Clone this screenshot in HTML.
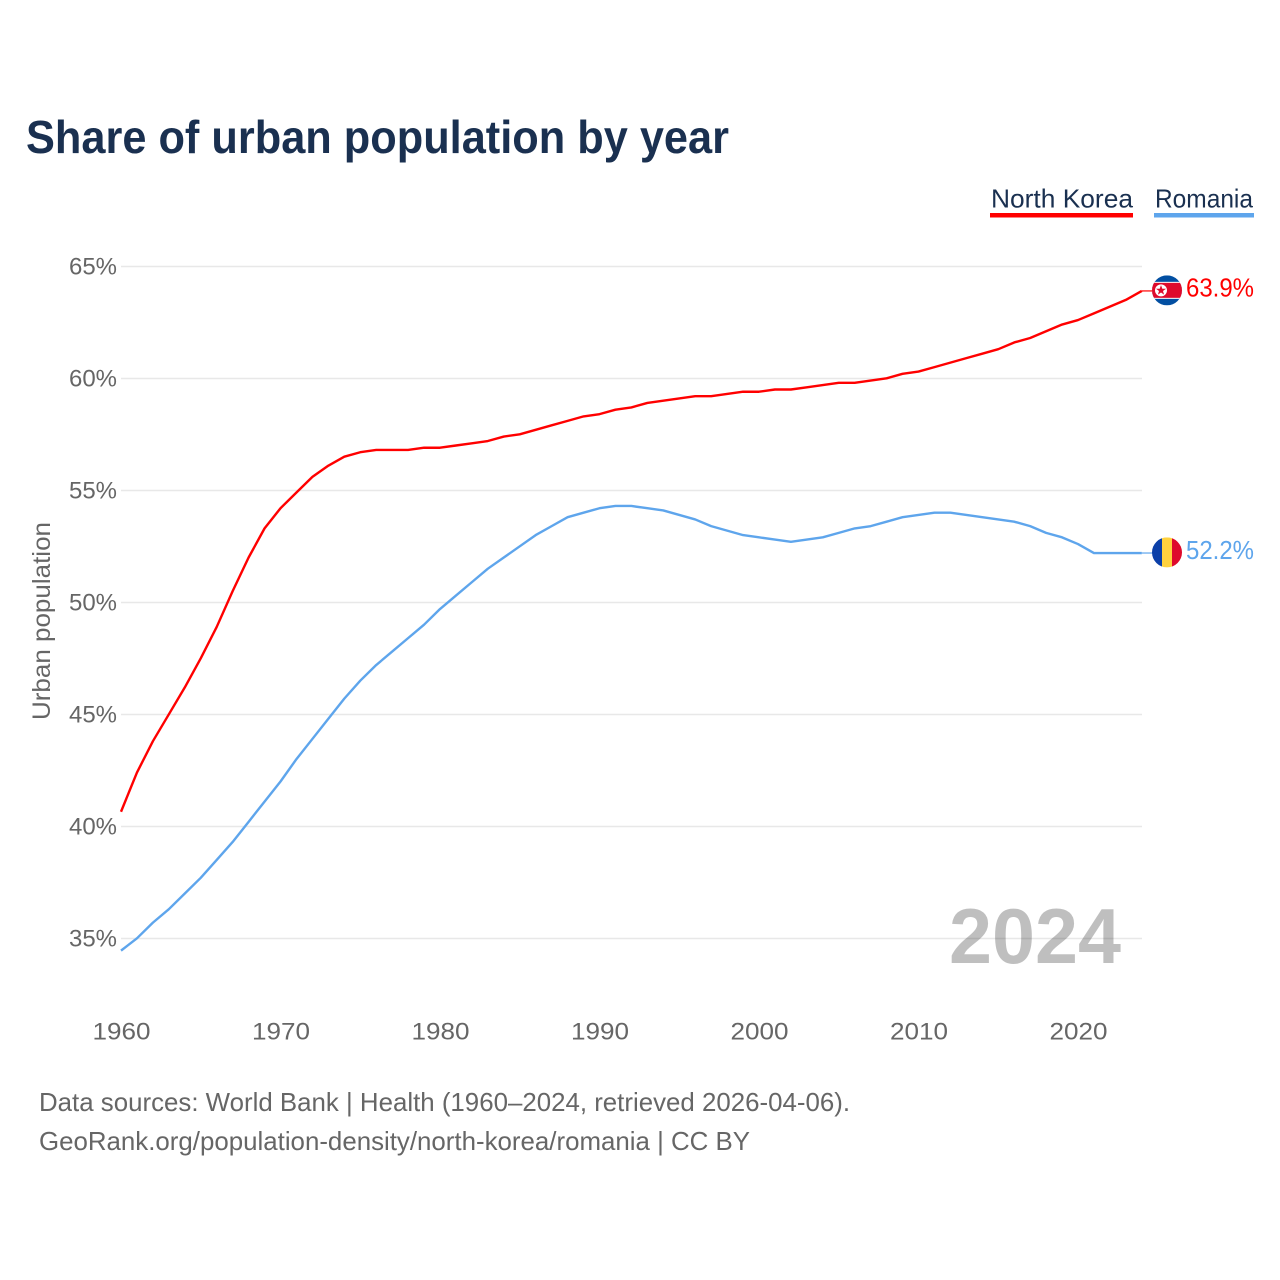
<!DOCTYPE html>
<html lang="en">
<head>
<meta charset="utf-8">
<title>Share of urban population by year</title>
<style>
html,body{margin:0;padding:0;background:#fff;width:1280px;height:1280px;overflow:hidden}
svg{display:block}
text{font-family:"Liberation Sans",sans-serif}
</style>
</head>
<body>
<svg id="chart" xmlns="http://www.w3.org/2000/svg" width="1280" height="1280" viewBox="0 0 1280 1280">
  <rect width="1280" height="1280" fill="#fff"/>
  <text x="26" y="153" font-size="46" font-weight="700" fill="#1a3050" textLength="703" lengthAdjust="spacingAndGlyphs">Share of urban population by year</text>
  <g>
    <text x="991" y="207.5" font-size="26" fill="#1a3050" textLength="142" lengthAdjust="spacingAndGlyphs">North Korea</text>
    <rect x="990" y="213" width="143" height="4.5" fill="#ff0000"/>
  </g>
  <g>
    <text x="1155" y="207.5" font-size="26" fill="#1a3050" textLength="98" lengthAdjust="spacingAndGlyphs">Romania</text>
    <rect x="1154" y="213" width="100" height="4.5" fill="#5ea5ec"/>
  </g>
  <g id="grid"></g>
  <g id="yticks"></g>
  <g id="xticks"></g>
  <text transform="translate(50,621) rotate(-90)" text-anchor="middle" font-size="25" fill="#666" textLength="198" lengthAdjust="spacingAndGlyphs">Urban population</text>
  <g id="series"></g>
  <text x="1121" y="963" text-anchor="end" font-size="78" font-weight="700" fill="#000" fill-opacity="0.25" textLength="172" lengthAdjust="spacingAndGlyphs">2024</text>
  <defs>
    <clipPath id="flag-clip-kp"><circle id="kp-clip-circle" cx="1167" cy="0" r="15"/></clipPath>
    <clipPath id="flag-clip-ro"><circle id="ro-clip-circle" cx="1167" cy="0" r="15"/></clipPath>
  </defs>
  <g id="flag-kp" clip-path="url(#flag-clip-kp)">
    <rect x="1152" y="-15" width="30" height="30" fill="#024fa2"/>
    <rect x="1152" y="-8.5" width="30" height="17" fill="#fff"/>
    <rect x="1152" y="-7.5" width="30" height="15" fill="#de0a2c"/>
    <circle cx="1161" cy="0" r="6" fill="#fff"/>
    <polygon points="1161,-5.2 1162.3,-1.6 1166,-1.6 1163,0.7 1164.1,4.3 1161,2.1 1157.9,4.3 1159,0.7 1156,-1.6 1159.7,-1.6" fill="#de0a2c"/>
  </g>
  <g id="flag-ro" clip-path="url(#flag-clip-ro)">
    <rect x="1152" y="-15" width="10" height="30" fill="#0b3fa8"/>
    <rect x="1162" y="-15" width="10" height="30" fill="#ffd23f"/>
    <rect x="1172" y="-15" width="10" height="30" fill="#de0a2c"/>
  </g>
  <text id="value-kp" x="1186" y="297" font-size="26" fill="#ff0000" textLength="68" lengthAdjust="spacingAndGlyphs"></text>
  <text id="value-ro" x="1186" y="559" font-size="26" fill="#5ea5ec" textLength="68" lengthAdjust="spacingAndGlyphs"></text>
  <text x="39" y="1111" font-size="26" fill="#666" textLength="811" lengthAdjust="spacingAndGlyphs">Data sources: World Bank | Health (1960–2024, retrieved 2026-04-06).</text>
  <text x="39" y="1150" font-size="26" fill="#666" textLength="711" lengthAdjust="spacingAndGlyphs">GeoRank.org/population-density/north-korea/romania | CC BY</text>
</svg>
<script>
const startYear = 1960;
const yTicks = [35, 40, 45, 50, 55, 60, 65];
const xTicks = [1960, 1970, 1980, 1990, 2000, 2010, 2020];
const northKorea = [40.65,42.4,43.8,45.0,46.2,47.5,48.9,50.5,52.0,53.3,54.2,54.9,55.6,56.1,56.5,56.7,56.8,56.8,56.8,56.9,56.9,57.0,57.1,57.2,57.4,57.5,57.7,57.9,58.1,58.3,58.4,58.6,58.7,58.9,59.0,59.1,59.2,59.2,59.3,59.4,59.4,59.5,59.5,59.6,59.7,59.8,59.8,59.9,60.0,60.2,60.3,60.5,60.7,60.9,61.1,61.3,61.6,61.8,62.1,62.4,62.6,62.9,63.2,63.5,63.9];
const romania = [34.45,35.0,35.7,36.3,37.0,37.7,38.5,39.3,40.2,41.1,42.0,43.0,43.9,44.8,45.7,46.5,47.2,47.8,48.4,49.0,49.7,50.3,50.9,51.5,52.0,52.5,53.0,53.4,53.8,54.0,54.2,54.3,54.3,54.2,54.1,53.9,53.7,53.4,53.2,53.0,52.9,52.8,52.7,52.8,52.9,53.1,53.3,53.4,53.6,53.8,53.9,54.0,54.0,53.9,53.8,53.7,53.6,53.4,53.1,52.9,52.6,52.2,52.2,52.2,52.2];

const NS = 'http://www.w3.org/2000/svg';
const xScale = yr => 121 + (yr - 1960) * 15.95;
const yScale = v => 266.3 + (65 - v) * 22.4;
const seriesColors = {kp: '#ff0000', ro: '#5ea5ec'};

function make(tag, attrs, parent, text) {
  const el = document.createElementNS(NS, tag);
  for (const k in attrs) el.setAttribute(k, attrs[k]);
  if (text !== undefined) el.textContent = text;
  parent.appendChild(el);
  return el;
}

const grid = document.getElementById('grid');
const yt = document.getElementById('yticks');
yTicks.forEach(v => {
  const line = make('rect', {x: 121, y: yScale(v) - 0.55, width: 1021, height: 1.5, fill: '#e8e8e8'}, grid);
  
  
  const label = make('text', {x: 117, y: yScale(v) + 8.2, 'text-anchor': 'end', 'font-size': 24, fill: '#666', textLength: 48, lengthAdjust: 'spacingAndGlyphs'}, yt, v + '%');
  
  
});

const xt = document.getElementById('xticks');
xTicks.forEach(yr => {
  const label = make('text', {x: xScale(yr) + 0.5, y: 1039.5, 'text-anchor': 'middle', 'font-size': 24, fill: '#666', textLength: 58, lengthAdjust: 'spacingAndGlyphs'}, xt, String(yr));
  
  
});

function drawSeries(values, color, name) {
  const g = document.getElementById('series');
  const pts = values.map((v, i) => xScale(startYear + i).toFixed(2) + ',' + yScale(v).toFixed(2)).join(' ');
  const line = make('polyline', {points: pts, fill: 'none', stroke: color, 'stroke-width': 2.4, 'stroke-linejoin': 'round'}, g);
  
  
  const last = values[values.length - 1];
  const lastX = xScale(startYear + values.length - 1);
  const tail = make('line', {x1: lastX, x2: 1153, y1: yScale(last), y2: yScale(last), stroke: color, 'stroke-width': 1.2}, g);
  
  
}
drawSeries(northKorea, seriesColors.kp, 'north-korea-line');
drawSeries(romania, seriesColors.ro, 'romania-line');

const kpLast = northKorea[northKorea.length - 1];
const roLast = romania[romania.length - 1];
const flagLift = -0.6;
document.getElementById('kp-clip-circle').setAttribute('cy', yScale(kpLast) + flagLift);
document.getElementById('ro-clip-circle').setAttribute('cy', yScale(roLast) + flagLift);
function placeFlag(id, cy) {
  const flag = document.getElementById(id);
  const inner = make('g', {transform: 'translate(0,' + cy + ')'}, flag);
  while (flag.firstChild !== inner) inner.appendChild(flag.firstChild);
}
placeFlag('flag-kp', yScale(kpLast) + flagLift);
placeFlag('flag-ro', yScale(roLast) + flagLift);

const vk = document.getElementById('value-kp');
vk.textContent = kpLast.toFixed(1) + '%';
vk.setAttribute('y', yScale(kpLast) + 5.8);
const vr = document.getElementById('value-ro');
vr.textContent = roLast.toFixed(1) + '%';
vr.setAttribute('y', yScale(roLast) + 5.8);
</script>
</body>
</html>
